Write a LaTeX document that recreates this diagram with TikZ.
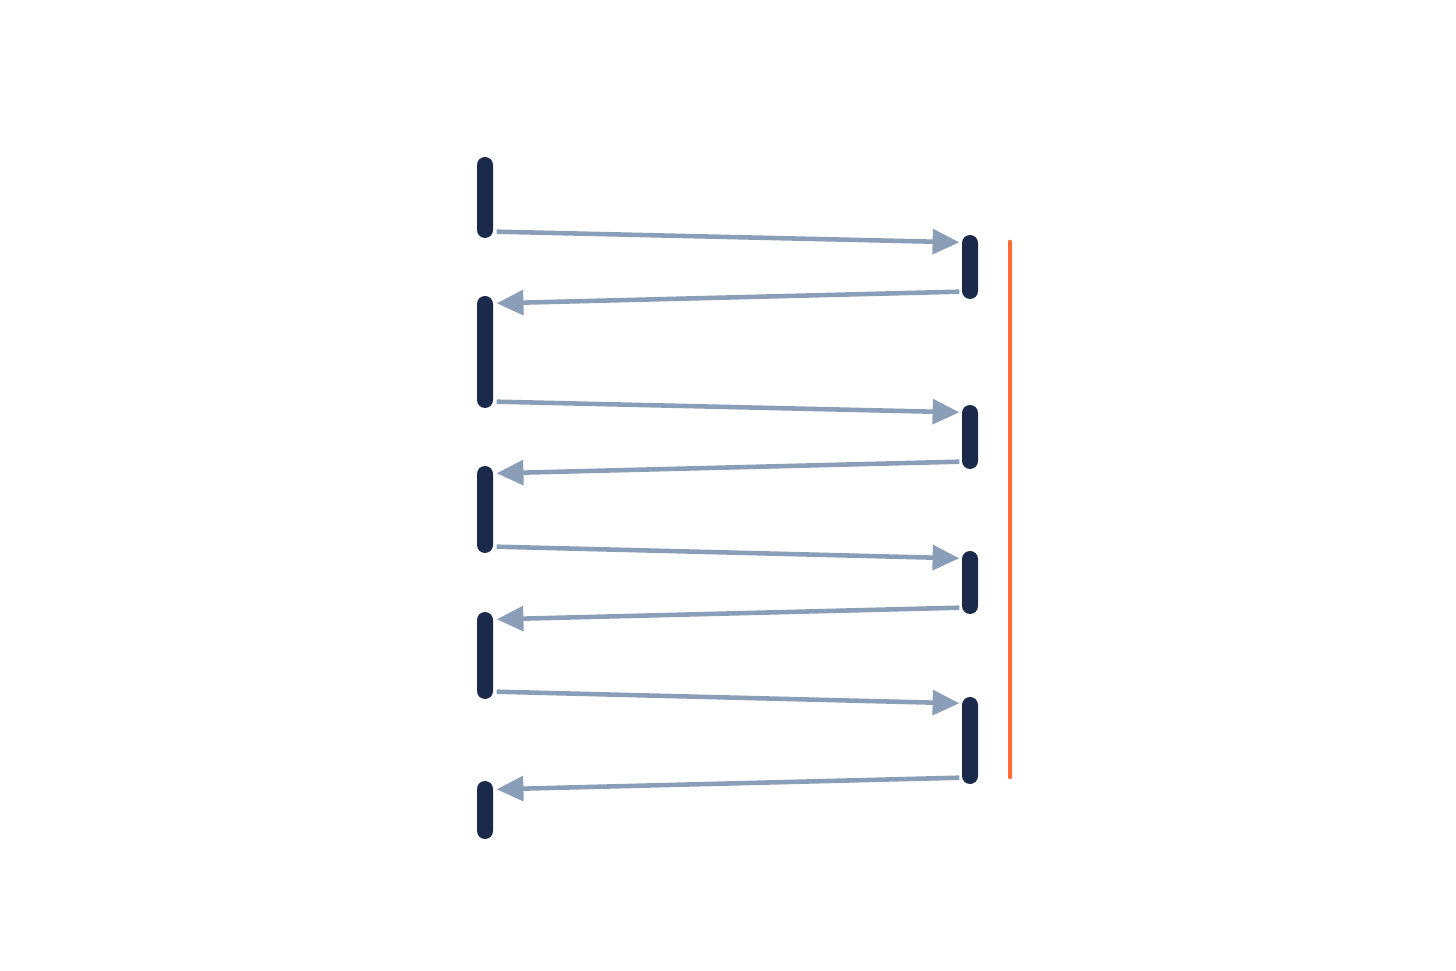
\documentclass[tikz,border=0pt]{standalone}
\usepackage{tikz}
\usetikzlibrary{positioning,arrows.meta}
\definecolor{BarNavy}{RGB}{27,42,74}
\definecolor{MsgGrey}{RGB}{138,158,184}
\definecolor{LimitOrange}{RGB}{255,107,53}

\begin{document}
\begin{tikzpicture}[
  bar/.style={rectangle, rounded corners=0.08cm, fill=BarNavy, minimum width=0.16cm, inner sep=0pt},
  msg/.style={-{Triangle[length=7.6pt, width=7pt]}, draw=MsgGrey, fill=MsgGrey, line width=1.3pt},
  limit/.style={draw=LimitOrange, line width=1.3pt, line cap=round}
]
  \useasboundingbox (0,0) rectangle (14.56,-9.71);
  % left side
  \node[bar, minimum height=0.81cm] (l1) at (4.85,-1.975) {};
  \node[bar, minimum height=1.12cm] (l2) at (4.85,-3.52) {};
  \node[bar, minimum height=0.87cm] (l3) at (4.85,-5.095) {};
  \node[bar, minimum height=0.87cm] (l4) at (4.85,-6.555) {};
  \node[bar, minimum height=0.58cm] (l5) at (4.85,-8.10) {};
  % right side
  \node[bar, minimum height=0.64cm] (r1) at (9.70,-2.67) {};
  \node[bar, minimum height=0.64cm] (r2) at (9.70,-4.37) {};
  \node[bar, minimum height=0.63cm] (r3) at (9.70,-5.825) {};
  \node[bar, minimum height=0.87cm] (r4) at (9.70,-7.405) {};
  \draw[limit] (10.10,-2.42) -- (10.10,-7.77);
  % messages
  \draw[msg] ([xshift=0.03cm, yshift=0.07cm]l1.south east) -- ([xshift=-0.02cm, yshift=-0.08cm]r1.north west);
  \draw[msg] ([xshift=-0.02cm, yshift=0.08cm]r1.south west) -- ([xshift=0.03cm, yshift=-0.08cm]l2.north east);
  \draw[msg] ([xshift=0.03cm, yshift=0.07cm]l2.south east) -- ([xshift=-0.02cm, yshift=-0.08cm]r2.north west);
  \draw[msg] ([xshift=-0.02cm, yshift=0.08cm]r2.south west) -- ([xshift=0.03cm, yshift=-0.08cm]l3.north east);
  \draw[msg] ([xshift=0.03cm, yshift=0.07cm]l3.south east) -- ([xshift=-0.02cm, yshift=-0.08cm]r3.north west);
  \draw[msg] ([xshift=-0.02cm, yshift=0.07cm]r3.south west) -- ([xshift=0.03cm, yshift=-0.08cm]l4.north east);
  \draw[msg] ([xshift=0.03cm, yshift=0.08cm]l4.south east) -- ([xshift=-0.02cm, yshift=-0.07cm]r4.north west);
  \draw[msg] ([xshift=-0.02cm, yshift=0.07cm]r4.south west) -- ([xshift=0.03cm, yshift=-0.09cm]l5.north east);
\end{tikzpicture}
\end{document}
